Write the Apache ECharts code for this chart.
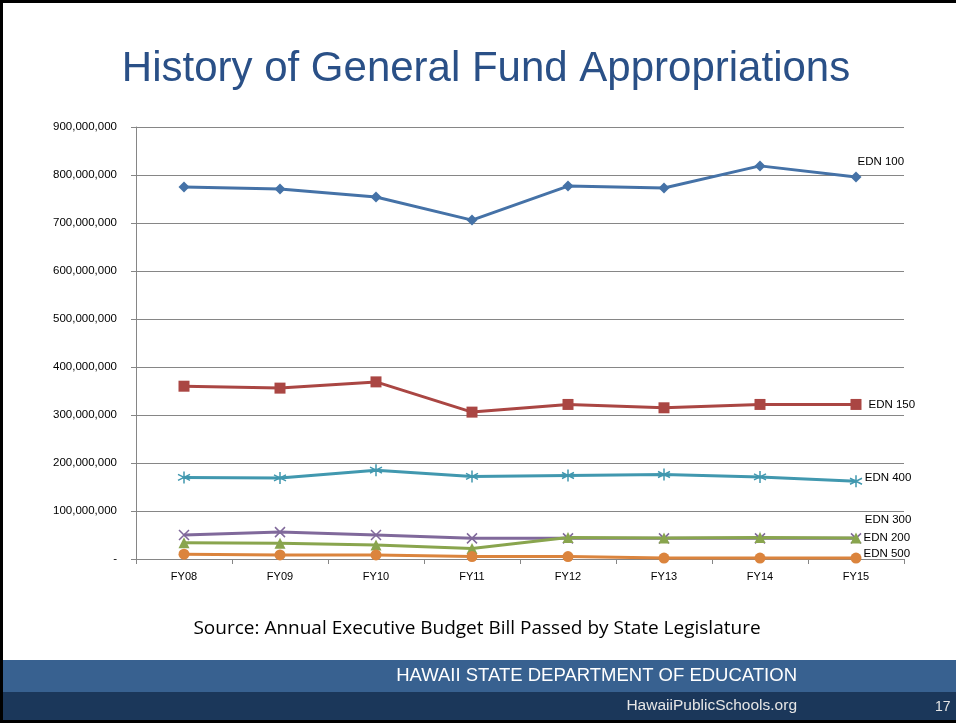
<!DOCTYPE html>
<html>
<head>
<meta charset="utf-8">
<script src="https://cdn.jsdelivr.net/npm/echarts@6/dist/echarts.min.js"></script>
<style>
  html, body { margin: 0; padding: 0; background: #fff; }
  #chart { width: 956px; height: 723px; }
</style>
</head>
<body>
<div id="chart"></div>
<script>
const years = ['FY08', 'FY09', 'FY10', 'FY11', 'FY12', 'FY13', 'FY14', 'FY15'];

const edn100 = [775e6, 771e6, 754e6, 706e6, 777e6, 773e6, 819e6, 796e6];
const edn150 = [360e6, 356e6, 369e6, 306e6, 322e6, 315e6, 322e6, 322e6];
const edn400 = [170e6, 169e6, 185e6, 172e6, 174e6, 176e6, 171e6, 162e6];
const edn300 = [50e6, 56e6, 50e6, 43e6, 43e6, 43e6, 43e6, 43e6];
const edn200 = [34e6, 33e6, 29e6, 22e6, 45e6, 44e6, 45e6, 44e6];
const edn500 = [10e6, 8.5e6, 8.5e6, 5e6, 5e6, 2e6, 2e6, 2e6];

const asterisk = 'path://M5,0L5,10M0.7,2.5L9.3,7.5M0.7,7.5L9.3,2.5';
const cross = 'path://M0,0L10,10M0,10L10,0';

const chart = echarts.init(document.getElementById('chart'));

function makeSeries(name, data, color, symbol, size, labelOffset, stroke) {
  return {
    name: name,
    type: 'line',
    data: data.map((v, i) => {
      if (i !== data.length - 1) return v;
      return {
        value: v,
        label: {
          show: true,
          position: 'right',
          formatter: name,
          offset: labelOffset,
          color: '#000',
          fontSize: 11.5,
          fontFamily: 'Liberation Sans'
        }
      };
    }),
    symbol: symbol,
    symbolSize: size,
    showAllSymbol: true,
    lineStyle: { color: color, width: 3 },
    itemStyle: stroke
      ? { color: 'rgba(0,0,0,0)', borderColor: color, borderWidth: 1.5 }
      : { color: color, borderColor: color, borderWidth: 0 },
    emphasis: { disabled: true },
    z: 3
  };
}

const option = {
  animation: false,
  textStyle: { fontFamily: 'Liberation Sans' },
  grid: { left: 136, right: 52, top: 127, bottom: 164 },
  xAxis: {
    type: 'category',
    data: years,
    boundaryGap: true,
    axisLine: { lineStyle: { color: '#868686', width: 1 } },
    axisTick: { show: true, length: 5, lineStyle: { color: '#868686' } },
    axisLabel: { color: '#000', fontSize: 11, margin: 12 }
  },
  yAxis: {
    type: 'value',
    min: 0,
    max: 900e6,
    interval: 100e6,
    axisLine: { show: true, lineStyle: { color: '#868686', width: 1 } },
    axisTick: { show: true, length: 5, lineStyle: { color: '#868686' } },
    splitLine: { lineStyle: { color: '#868686', width: 1 } },
    axisLabel: {
      color: '#000',
      fontSize: 11.5,
      margin: 19,
      formatter: v => v === 0 ? '-' : v.toLocaleString('en-US')
    }
  },
  series: [
    makeSeries('EDN 100', edn100, '#4572A7', 'diamond', 11, [-9, -15], false),
    makeSeries('EDN 150', edn150, '#AA4643', 'rect', 11, [2, 0], false),
    makeSeries('EDN 400', edn400, '#4198AF', asterisk, 12, [-3, -3], true),
    makeSeries('EDN 300', edn300, '#80699B', cross, 10, [-2, -19], true),
    makeSeries('EDN 200', edn200, '#89A54E', 'triangle', 11, [-3, 0], false),
    makeSeries('EDN 500', edn500, '#DB843D', 'circle', 11, [-3, -4], false)
  ],
  graphic: [
    {
      type: 'text', x: 486, y: 69,
      style: {
        text: 'History of General Fund Appropriations',
        fill: '#2A5087', fontSize: 42, fontFamily: 'Liberation Sans',
        textAlign: 'center', textVerticalAlign: 'middle'
      }
    },
    {
      type: 'text', x: 477, y: 629,
      style: {
        text: 'Source: Annual Executive Budget Bill Passed by State Legislature',
        fill: '#000', fontSize: 19, fontFamily: 'Open Sans',
        textAlign: 'center', textVerticalAlign: 'middle'
      }
    },
    {
      type: 'rect', left: 0, top: 660,
      shape: { width: 956, height: 32 },
      style: { fill: '#386190' }
    },
    {
      type: 'rect', left: 0, top: 692,
      shape: { width: 956, height: 29 },
      style: { fill: '#1B375A' }
    },
    {
      type: 'text', x: 797, y: 676,
      style: {
        text: 'HAWAII STATE DEPARTMENT OF EDUCATION',
        fill: '#fff', fontSize: 18.5, fontFamily: 'Liberation Sans',
        textAlign: 'right', textVerticalAlign: 'middle'
      }
    },
    {
      type: 'text', x: 797, y: 706,
      style: {
        text: 'HawaiiPublicSchools.org',
        fill: '#e6e6e6', fontSize: 15.5, fontFamily: 'Liberation Sans',
        textAlign: 'right', textVerticalAlign: 'middle'
      }
    },
    {
      type: 'text', x: 935, y: 707,
      style: {
        text: '17', fill: '#e6e6e6', fontSize: 14, fontFamily: 'Liberation Sans',
        textVerticalAlign: 'middle'
      }
    },
    {
      type: 'polyline',
      shape: { points: [[956, 1.5], [1.5, 1.5], [1.5, 721.5], [956, 721.5]] },
      style: { stroke: '#000', lineWidth: 3, fill: null }
    }
  ]
};

chart.setOption(option);
</script>
</body>
</html>
